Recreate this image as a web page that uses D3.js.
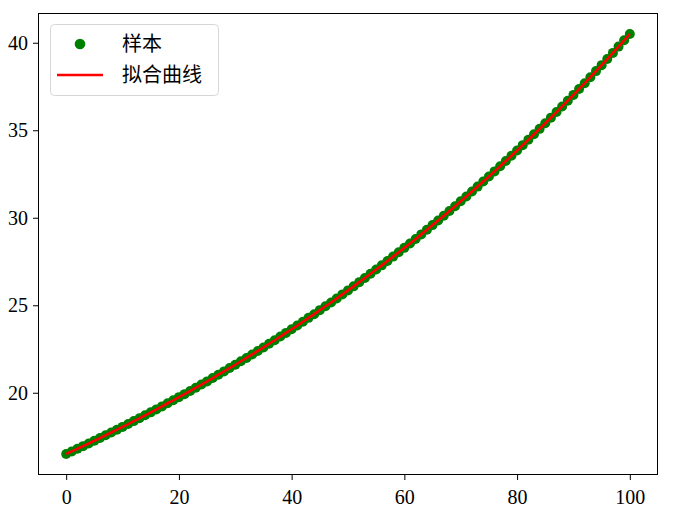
<!DOCTYPE html>
<html><head><meta charset="utf-8">
<script src="https://cdn.jsdelivr.net/npm/d3@7"></script>
<style>body{margin:0;background:#fff}svg{display:block}</style>
</head><body>
<script>
const sampleX = d3.range(0, 101);
const sampleY = [16.50,16.65,16.80,16.95,17.10,17.26,17.41,17.57,17.73,17.89,
18.05,18.21,18.38,18.54,18.71,18.88,19.05,19.22,19.40,19.57,
19.75,19.92,20.10,20.29,20.47,20.65,20.84,21.03,21.22,21.41,
21.60,21.80,21.99,22.19,22.39,22.59,22.80,23.00,23.21,23.42,
23.63,23.84,24.06,24.28,24.49,24.72,24.94,25.16,25.39,25.62,
25.85,26.08,26.32,26.56,26.80,27.04,27.28,27.53,27.78,28.03,
28.28,28.53,28.79,29.05,29.31,29.58,29.84,30.11,30.39,30.66,
30.94,31.21,31.50,31.78,32.07,32.36,32.65,32.94,33.24,33.54,
33.84,34.15,34.46,34.77,35.08,35.40,35.72,36.04,36.36,36.69,
37.02,37.36,37.69,38.03,38.38,38.72,39.07,39.42,39.78,40.14,40.50];
const fitY = sampleY;
const xTicks = [0, 20, 40, 60, 80, 100];
const yTicks = [20, 25, 30, 35, 40];
const legendLabels = ["样本", "拟合曲线"];

const W = 680, H = 512;
const m = {left: 38, right: 22, top: 13, bottom: 37};
const svg = d3.select("body").append("svg").attr("width", W).attr("height", H);

const xr = 100, yr = d3.max(sampleY) - d3.min(sampleY);
const x = d3.scaleLinear().domain([0 - 0.05*xr, 100 + 0.05*xr]).range([m.left, W - m.right]);
const y = d3.scaleLinear().domain([d3.min(sampleY) - 0.05*yr, d3.max(sampleY) + 0.05*yr]).range([H - m.bottom, m.top]);

const numFont = "'Liberation Serif', 'DejaVu Serif', serif";
const cjkFont = "'Noto Sans CJK SC', sans-serif";

const xAxis = svg.append("g").attr("transform", `translate(0,${H - m.bottom})`)
  .call(d3.axisBottom(x).tickValues(xTicks).tickSize(5).tickPadding(5).tickFormat(d3.format("d")));
const yAxis = svg.append("g").attr("transform", `translate(${m.left},0)`)
  .call(d3.axisLeft(y).tickValues(yTicks).tickSize(5).tickPadding(5).tickFormat(d3.format("d")));
[xAxis, yAxis].forEach(g => {
  g.select(".domain").remove();
  g.selectAll(".tick line").attr("stroke", "#000").attr("stroke-width", 1);
  g.selectAll(".tick text").attr("font-family", numFont).attr("font-size", 20).attr("fill", "#000");
});
xAxis.selectAll(".tick text").attr("dy", "0.95em");

// data
svg.append("g").selectAll("circle").data(sampleX).join("circle")
  .attr("cx", (d) => x(d)).attr("cy", (d, i) => y(sampleY[i])).attr("r", 5)
  .attr("fill", "#008000");

svg.append("path").datum(sampleX)
  .attr("d", d3.line().x(d => x(d)).y((d, i) => y(fitY[i])))
  .attr("fill", "none").attr("stroke", "#ff0000").attr("stroke-width", 2.6);

// frame
svg.append("rect").attr("x", m.left + 0.5).attr("y", m.top + 0.5)
  .attr("width", W - m.left - m.right - 1).attr("height", H - m.top - m.bottom - 1)
  .attr("fill", "none").attr("stroke", "#000").attr("stroke-width", 1);

// legend
const lg = svg.append("g");
lg.append("rect").attr("x", 50.5).attr("y", 24.5).attr("width", 168).attr("height", 71).attr("rx", 4)
  .attr("fill", "#fff").attr("fill-opacity", 0.8).attr("stroke", "#d6d6d6");
lg.append("circle").attr("cx", 80).attr("cy", 44).attr("r", 5.3).attr("fill", "#008000");
lg.append("line").attr("x1", 57).attr("x2", 103).attr("y1", 75).attr("y2", 75)
  .attr("stroke", "#ff0000").attr("stroke-width", 2.6);
lg.selectAll("text").data(legendLabels).join("text")
  .attr("x", 122).attr("y", (d, i) => 51 + i * 31)
  .attr("font-family", cjkFont).attr("font-size", 20).attr("fill", "#000").text(d => d);
</script>
</body></html>
